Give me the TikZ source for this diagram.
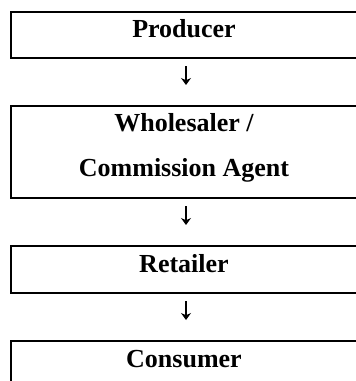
\documentclass[tikz,border=0pt]{standalone}
\usepackage{fontspec}
\setmainfont{Liberation Serif}
\usetikzlibrary{arrows.meta}
\begin{document}
\begin{tikzpicture}[x=1pt,y=-1pt,
  box/.style={draw=black, line width=2pt, rectangle, inner sep=0pt, anchor=north west, minimum width=350pt},
  lbl/.style={font=\fontsize{26}{45}\selectfont\bfseries, inner sep=0pt, align=center},
  flow/.style={line width=1.1pt, shorten <=7pt, shorten >=20pt, -{Stealth[length=7pt,width=10pt]}}]
\useasboundingbox (0,0) rectangle (356,381);
\clip (0,0) rectangle (356,381);
\node[box, minimum height=46pt] (p) at (10,11) {};
\node[box, minimum height=92pt] (w) at (10,105) {};
\node[box, minimum height=47pt] (r) at (10,245) {};
\node[box, minimum height=60pt] (c) at (10,340) {};
\node[lbl, anchor=base] (pt) at (184,37) {Producer};
\node[lbl, anchor=center] (wt) at (184,148) {Wholesaler /\\Commission Agent};
\node[lbl, anchor=base] (rt) at (184,272) {Retailer};
\node[lbl, anchor=base] (ct) at (184,367) {Consumer};
\draw[flow] (p.south) -- (w.north);
\draw[flow] (w.south) -- (r.north);
\draw[flow] (r.south) -- (c.north);
\end{tikzpicture}
\end{document}
